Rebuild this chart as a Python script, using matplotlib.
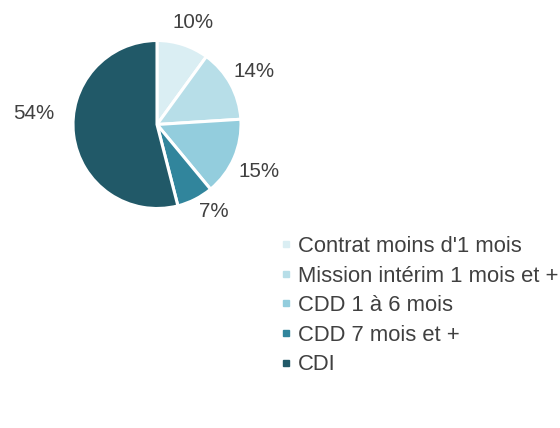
import numpy as np
import matplotlib.pyplot as plt
from matplotlib.lines import Line2D

categories = ["Contrat moins d'1 mois", "Mission intérim 1 mois et +",
              "CDD 1 à 6 mois", "CDD 7 mois et +", "CDI"]
shares = [10, 14, 15, 7, 54]
colors = ['#DAEEF3', '#B7DEE8', '#93CDDD', '#31859C', '#215968']

# label placement tweaks (radius in pie radii, angle shift in degrees)
label_dist = [1.295, 1.317, 1.338, 1.232, 1.475]
label_shift = [-1.6, 0, -1.4, 6, -12.1]

plt.rcParams['font.family'] = ['Liberation Sans', 'DejaVu Sans']
text_color = '#404040'

W, H = 560, 428
fig = plt.figure(figsize=(W / 100, H / 100), dpi=100)

# pie axes, placed in pixels: center (157, 124.5), radius 84
cx, cy, r = 157, 124.5, 84
ax = fig.add_axes([(cx - r) / W, 1 - (cy + r) / H, 2 * r / W, 2 * r / H])
wedges, _ = ax.pie(shares, colors=colors, startangle=90, counterclock=False, radius=1,
                   wedgeprops=dict(edgecolor='white', linewidth=2.2))
for w, v, d, s in zip(wedges, shares, label_dist, label_shift):
    ang = np.deg2rad((w.theta1 + w.theta2) / 2 + s)
    ax.text(d * np.cos(ang), d * np.sin(ang), f'{v}%', ha='center', va='center',
            color=text_color, fontsize=14.8)
ax.set_xlim(-1, 1)
ax.set_ylim(-1, 1)
ax.set_aspect('equal')
ax.axis('off')

handles = [Line2D([], [], marker='s', linestyle='none', markersize=5,
                  markerfacecolor=c, markeredgecolor=c) for c in colors]
fig.legend(handles, categories, loc='upper left', bbox_to_anchor=(0.5007, 0.4487),
           frameon=False, fontsize=15.8, handlelength=0.5, handletextpad=0.3,
           borderpad=0, borderaxespad=0, labelspacing=0.39, labelcolor=text_color)

fig.savefig('out.png', dpi=100)
